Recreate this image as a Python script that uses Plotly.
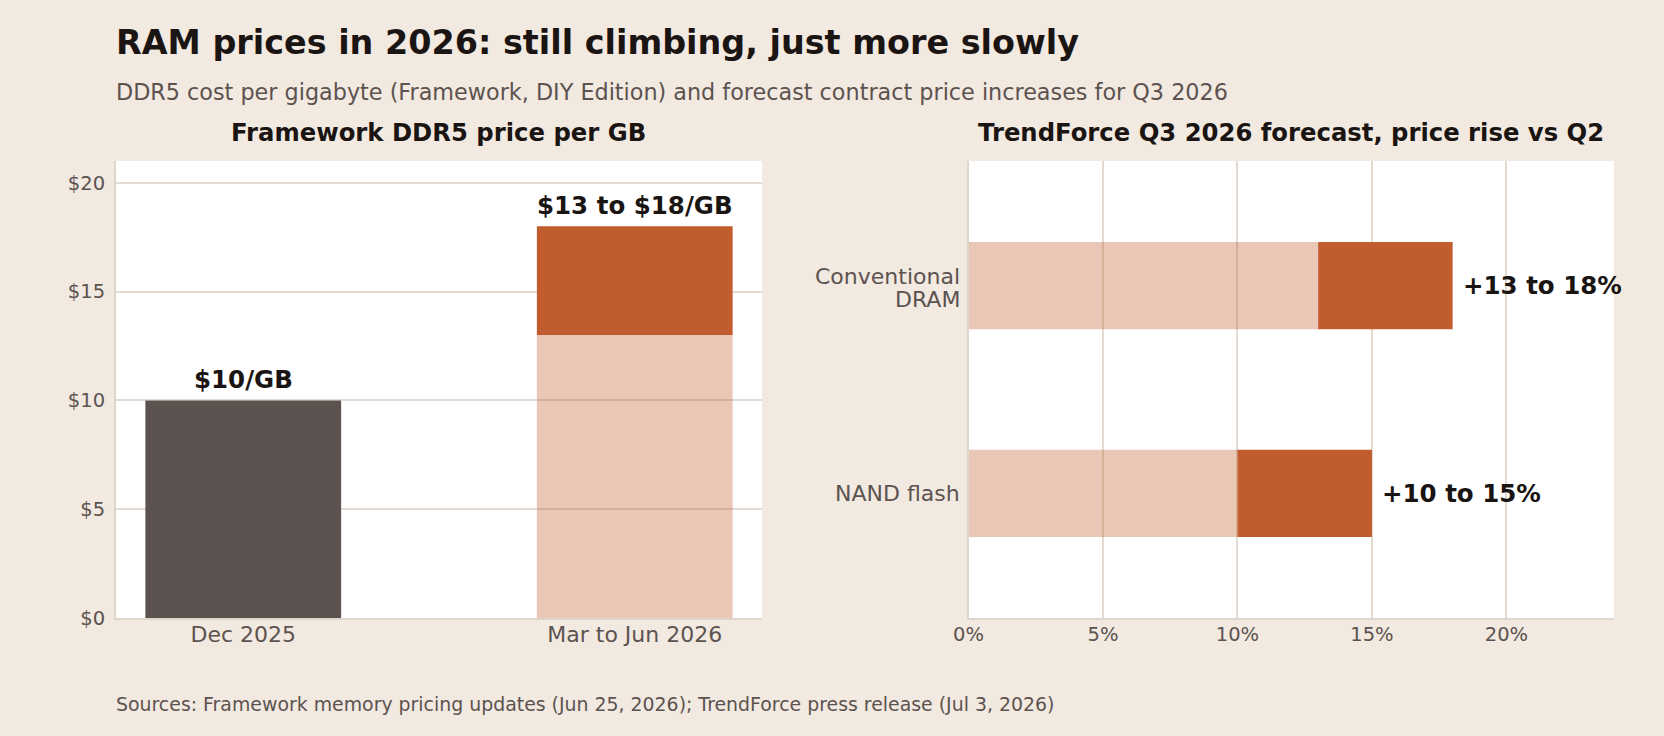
import plotly.graph_objects as go

# ---- data ----
periods = ["Dec 2025", "Mar to Jun 2026"]
dec_price = [10]
forecast_low = [13]
forecast_high = [18]
price_ticks = [0, 5, 10, 15, 20]

segments = ["Conventional DRAM", "NAND flash"]
segment_lines = [["Conventional", "DRAM"], ["NAND flash"]]
rise_low = [13, 10]
rise_high = [18, 15]
pct_ticks = [0, 5, 10, 15, 20]

# ---- style ----
BG = "#F2E9E0"
DARK = "#C15C2E"
LIGHT = "rgba(193,92,46,0.35)"
GREY_BAR = "#5C5350"
GRID = "#E3DBD1"
AXLINE = "#DFD6CB"
TXT = "#1A1512"
SUB = "#5C5350"
FONT = "DejaVu Sans"
W, H = 1664, 736

def py(px):
    return 1 - px / H

fig = go.Figure()

# left chart
fig.add_trace(go.Bar(x=[periods[0]], y=dec_price, marker_color=GREY_BAR, width=0.5,
                     xaxis="x", yaxis="y", hoverinfo="skip", marker_line_width=0))
fig.add_trace(go.Bar(x=[periods[1]], y=forecast_low, marker_color=LIGHT, width=0.5,
                     xaxis="x", yaxis="y", hoverinfo="skip", marker_line_width=0))
fig.add_trace(go.Bar(x=[periods[1]], base=forecast_low,
                     y=[h - l for h, l in zip(forecast_high, forecast_low)],
                     marker_color=DARK, width=0.5, xaxis="x", yaxis="y",
                     hoverinfo="skip", marker_line_width=0))

# right chart
fig.add_trace(go.Bar(y=segments, x=rise_low, orientation="h", marker_color=LIGHT, width=0.42,
                     xaxis="x2", yaxis="y2", hoverinfo="skip", marker_line_width=0))
fig.add_trace(go.Bar(y=segments, base=rise_low,
                     x=[h - l for h, l in zip(rise_high, rise_low)], orientation="h",
                     marker_color=DARK, width=0.42, xaxis="x2", yaxis="y2",
                     hoverinfo="skip", marker_line_width=0))

annotations = []
LBL = 24.5
annotations.append(dict(x=periods[0], y=dec_price[0], xref="x", yref="y",
                        text="<b>$%d/GB</b>" % dec_price[0], showarrow=False,
                        yanchor="bottom", yshift=4, font=dict(size=LBL, color=TXT, family=FONT)))
annotations.append(dict(x=periods[1], y=forecast_high[0], xref="x", yref="y",
                        text="<b>$%d to $%d/GB</b>" % (forecast_low[0], forecast_high[0]),
                        showarrow=False, yanchor="bottom", yshift=4,
                        font=dict(size=LBL, color=TXT, family=FONT)))
for s, lo, hi in zip(segments, rise_low, rise_high):
    annotations.append(dict(x=hi, y=s, xref="x2", yref="y2",
                            text="<b>+%d to %d%%</b>" % (lo, hi), showarrow=False,
                            xanchor="left", xshift=8,
                            font=dict(size=LBL, color=TXT, family=FONT)))

# category labels of the right chart (tight line spacing)
for s, lines in zip(segments, segment_lines):
    shifts = [9.5, -14] if len(lines) == 2 else [-0.5]
    for line, ys in zip(lines, shifts):
        annotations.append(dict(x=0, y=s, xref="x2", yref="y2", text=line, showarrow=False,
                                xanchor="right", yanchor="middle", xshift=-7, yshift=ys,
                                font=dict(size=22, color=SUB, family=FONT)))

annotations += [
    dict(x=114 / W, y=py(42.5), xref="paper", yref="paper", xanchor="left", yanchor="middle",
         text="<b>RAM prices in 2026: still climbing, just more slowly</b>", showarrow=False,
         font=dict(size=33.4, color=TXT, family=FONT)),
    dict(x=114 / W, y=py(92), xref="paper", yref="paper", xanchor="left", yanchor="middle",
         text="DDR5 cost per gigabyte (Framework, DIY Edition) and forecast contract price increases for Q3 2026",
         showarrow=False, font=dict(size=22.3, color=SUB, family=FONT)),
    dict(x=(116 + 762) / 2 / W, y=py(132), xref="paper", yref="paper", xanchor="center", yanchor="middle",
         text="<b>Framework DDR5 price per GB</b>", showarrow=False,
         font=dict(size=24.3, color=TXT, family=FONT)),
    dict(x=(968 + 1614) / 2 / W, y=py(132), xref="paper", yref="paper", xanchor="center", yanchor="middle",
         text="<b>TrendForce Q3 2026 forecast, price rise vs Q2</b>", showarrow=False,
         font=dict(size=24.3, color=TXT, family=FONT)),
    dict(x=114 / W, y=py(704), xref="paper", yref="paper", xanchor="left", yanchor="middle",
         text="Sources: Framework memory pricing updates (Jun 25, 2026); TrendForce press release (Jul 3, 2026)",
         showarrow=False, font=dict(size=18.9, color=SUB, family=FONT)),
]

ydom = [py(618), py(161)]
fig.update_layout(
    width=W, height=H, margin=dict(l=0, r=0, t=0, b=0, pad=0), autosize=False,
    paper_bgcolor=BG, plot_bgcolor="white",
    barmode="overlay", showlegend=False,
    font=dict(family=FONT, color=SUB),
    annotations=annotations,
    xaxis=dict(domain=[116 / W, 762 / W], type="category", categoryarray=periods,
               range=[-0.325, 1.325], showgrid=False, showline=True, linecolor=AXLINE,
               linewidth=2, ticks="", ticklabelstandoff=-4, automargin=False,
               tickfont=dict(size=22, color=SUB, family=FONT), zeroline=False),
    yaxis=dict(domain=ydom, range=[0, 21], tickmode="array", tickvals=price_ticks,
               ticktext=["$%d" % v for v in price_ticks],
               showgrid=True, gridcolor=GRID, gridwidth=1.5, showline=True, linecolor=AXLINE,
               linewidth=2, ticks="", ticklabelstandoff=5, zeroline=False, automargin=False,
               tickfont=dict(size=19.5, color=SUB, family=FONT)),
    xaxis2=dict(domain=[968.5 / W, 1614 / W], anchor="y2", range=[0, 24], tickmode="array",
                tickvals=pct_ticks, ticktext=["%d%%" % v for v in pct_ticks],
                showgrid=True, gridcolor=GRID, gridwidth=1.5, showline=True,
                linecolor=AXLINE, linewidth=2, ticks="", ticklabelstandoff=-2, zeroline=False,
                automargin=False, tickfont=dict(size=19.5, color=SUB, family=FONT)),
    yaxis2=dict(domain=ydom, anchor="x2", type="category",
                categoryarray=list(reversed(segments)), range=[-0.6, 1.6], showgrid=False,
                showline=True, linecolor=AXLINE, linewidth=2, ticks="", showticklabels=False,
                automargin=False, zeroline=False),
)

fig.write_html("out.html",
               post_script="document.body.style.margin='0';document.body.style.background='%s';" % BG)
